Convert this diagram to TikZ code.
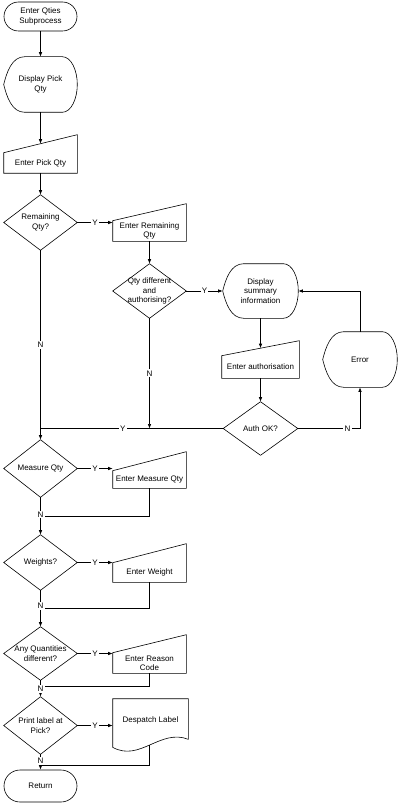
\documentclass[tikz,border=0pt]{standalone}
\usepackage{fontspec}
\setmainfont{Liberation Sans}
\usetikzlibrary{calc,arrows.meta,shapes.misc}

\newcommand\drawdia[1]{\draw (#1.north) -- (#1.east) -- (#1.south) -- (#1.west) -- cycle;}
\newcommand\drawmanual[2]{\draw (#1.south west) -- (#1.south east) -- ($(#1.north east)+(0,-#2)$) -- (#1.north west) -- cycle;}
\newcommand\drawdisp[1]{\draw (#1.west) .. controls ($(#1.west)+(3,-12)$) and ($(#1.north west)+(8,0)$) .. ($(#1.north west)+(21,0)$)
  -- ($(#1.north east)+(-15,0)$) .. controls ($(#1.north east)+(-6,0)$) and ($(#1.east)+(0,-14)$) .. (#1.east)
  .. controls ($(#1.east)+(0,14)$) and ($(#1.south east)+(-6,0)$) .. ($(#1.south east)+(-15,0)$)
  -- ($(#1.south west)+(21,0)$) .. controls ($(#1.south west)+(8,0)$) and ($(#1.west)+(3,12)$) .. (#1.west) -- cycle;}

\tikzset{
  box/.style={draw=none, inner sep=0pt, align=center},
  term/.style={rounded rectangle, draw, inner sep=0pt, align=center, minimum width=73pt},
  arr/.style={-{Latex[length=4.5pt,width=3.5pt]}},
  lbl/.style={fill=white, inner sep=1.2pt}
}

\begin{document}
\begin{tikzpicture}[x=1pt, y=-1pt, line width=0.6pt, font=\fontsize{8}{9.3}\selectfont]
\useasboundingbox (0,0) rectangle (404,805);

% nodes
\node[term, minimum height=29pt] (start) at (40.5,16.5) {Enter Qties\\Subprocess};
\node[box, minimum width=73pt, minimum height=55pt] (dpq) at (40.5,84.5) {Display Pick\\Qty};
\node[box, minimum width=73pt, minimum height=20pt] (epq) at (40.5,163) {Enter Pick Qty};
\node[box, minimum width=73pt, minimum height=55pt] (rq) at (40.5,222.5) {Remaining\\Qty?};
\node[box, minimum width=73pt, minimum height=20pt] (erq) at (149.5,231) {Enter Remaining\\Qty};
\node[box, minimum width=73pt, minimum height=54pt] (qda) at (149.5,291) {Qty different\\and\\authorising?};
\node[box, minimum width=75pt, minimum height=54pt] (dsi) at (260.5,291) {Display\\summary\\information};
\node[box, minimum width=77pt, minimum height=22pt] (ea) at (260.5,367) {Enter authorisation};
\node[box, minimum width=74pt, minimum height=53pt] (aok) at (260.5,428.5) {Auth OK?};
\node[box, minimum width=74pt, minimum height=55pt] (err) at (360,359.5) {Error};
\node[box, minimum width=73pt, minimum height=57pt] (mq) at (40.5,468.5) {Measure Qty};
\node[box, minimum width=73pt, minimum height=17pt] (emq) at (149.5,479.5) {Enter Measure Qty};
\node[box, minimum width=73pt, minimum height=55pt] (w) at (40.5,562.5) {Weights?};
\node[box, minimum width=73pt, minimum height=19pt] (ew) at (149.5,572.5) {Enter Weight};
\node[box, minimum width=73pt, minimum height=53pt] (aqd) at (40.5,653.5) {Any Quantities\\different?};
\node[box, minimum width=73pt, minimum height=20pt] (erc) at (149.5,663) {Enter Reason\\Code};
\node[box, minimum width=73pt, minimum height=57pt] (pl) at (40.5,725.5) {Print label at\\Pick?};
\node[box, minimum width=75pt, minimum height=42pt] (dl) at (150.5,720) {Despatch Label};
\node[term, minimum height=32pt] (ret) at (40.5,786) {Return};

% outlines
\drawdisp{dpq}
\drawmanual{epq}{18}
\drawdia{rq}
\drawmanual{erq}{17}
\drawdia{qda}
\drawdisp{dsi}
\drawmanual{ea}{15}
\drawdia{aok}
\drawdisp{err}
\drawdia{mq}
\drawmanual{emq}{19}
\drawdia{w}
\drawmanual{ew}{19}
\drawdia{aqd}
\drawmanual{erc}{18}
\drawdia{pl}
\draw ($(dl.south west)+(0,6)$) -- (dl.north west) -- (dl.north east) -- ($(dl.south east)+(0,-2)$)
  .. controls ($(dl.south east)+(-28,-13)$) and ($(dl.south west)+(27,21)$) .. ($(dl.south west)+(0,6)$) -- cycle;

% helper coordinates
\coordinate (epqin) at ($(epq.north)+(0,-9)$);
\coordinate (eain) at ($(ea.north)+(0,-7.5)$);
\coordinate (j1) at (aok.west -| rq.south);
\coordinate (j2) at ($(mq.south)!0.5!(w.north)$);
\coordinate (j3) at ($(w.south)!0.49!(aqd.north)$);
\coordinate (j4) at ($(aqd.south)!0.38!(pl.north)$);
\coordinate (j5) at ($(pl.south)!0.7!(ret.north)$);
\coordinate (dlout) at ($(dl.south)+(-1,3.5)$);

% connectors
\draw[arr] (start.south) -- (dpq.north);
\draw[arr] (dpq.south) -- (epqin);
\draw[arr] (epq.south) -- (rq.north);
\draw[arr] (rq.east) -- node[lbl]{Y} (rq.east -| erq.west);
\draw[arr] (erq.south) -- (qda.north);
\draw[arr] (qda.east) -- node[lbl]{Y} (qda.east -| dsi.west);
\draw[arr] (dsi.south) -- (eain);
\draw[arr] (ea.south) -- (aok.north);
\draw[arr] (aok.east) -- node[lbl,pos=0.8]{N} (aok.east -| err.south) -- (err.south);
\draw[arr] (err.north) -- (err.north |- dsi.east) -- (dsi.east);
\draw (aok.west) -- node[lbl,pos=0.55]{Y} (j1);
\draw[arr] (qda.south) -- node[lbl]{N} (qda.south |- j1);
\draw[arr] (rq.south) -- node[lbl,pos=0.5]{N} (mq.north);

\draw[arr] (mq.east) -- node[lbl]{Y} (mq.east -| emq.west);
\draw (emq.south) |- (j2);
\draw[arr] (mq.south) -- node[lbl,pos=0.46]{N} (w.north);

\draw[arr] (w.east) -- node[lbl]{Y} (w.east -| ew.west);
\draw (ew.south) |- (j3);
\draw[arr] (w.south) -- node[lbl,pos=0.42]{N} (aqd.north);

\draw[arr] (aqd.east) -- node[lbl]{Y} (aqd.east -| erc.west);
\draw (erc.south) |- (j4);
\draw[arr] (aqd.south) -- node[lbl,pos=0.52]{N} (pl.north);

\draw[arr] (pl.east) -- node[lbl]{Y} (pl.east -| dl.west);
\draw (dlout) |- (j5);
\draw[arr] (pl.south) -- node[lbl,pos=0.45]{N} (ret.north);
\end{tikzpicture}
\end{document}
